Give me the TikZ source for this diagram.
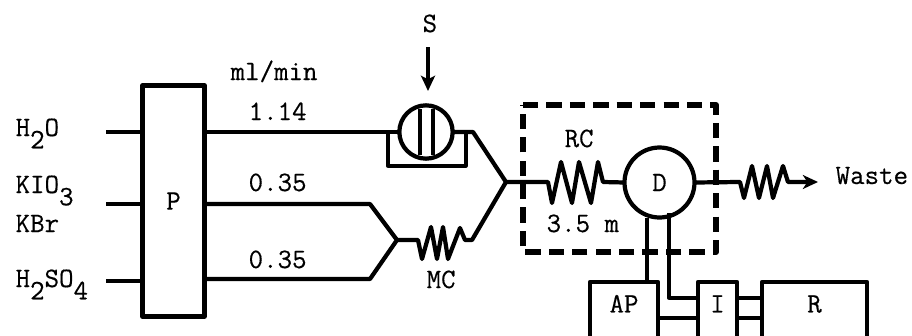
\documentclass[tikz,border=0pt]{standalone}
\usepackage{amsmath,amssymb}
\usepackage{fontspec}
\setmonofont[FakeBold=0.4]{Latin Modern Mono}
\usetikzlibrary{arrows.meta}

\newcommand{\lowered}[1]{\raisebox{-10.5pt}{#1}}
\tikzset{
    flow/.style={draw},
    coil/.style={draw, line width=3.6pt},
    tag/.style={anchor=base west, inner sep=0pt, font=\ttfamily\fontsize{24}{24}\selectfont},
    unit/.style={draw, line width=3.6pt, outer sep=0pt, inner sep=0pt, font=\ttfamily\fontsize{24}{24}\selectfont},
    openbox/.style={unit, anchor=north west, text height=26pt, text depth=40pt},
}

\begin{document}
\begin{tikzpicture}[x=0.03cm,y=-0.03cm,line width=2.8pt,line join=round]
        \useasboundingbox (0,0) rectangle (912,336);

        % Boxes below, cut off by the page edge
        \begin{scope}
        \clip (0,0) rectangle (912,336);
        \node[openbox, minimum width=2.04cm] (AP) at (590,282) {AP};
        \node[openbox, minimum width=1.17cm] (I) at (698,282) {I};
        \node[openbox, minimum width=3.15cm] (R) at (762,282) {R};
        \end{scope}

        % Pump, valve and detector
        \node[unit, minimum width=1.86cm, minimum height=6.93cm] (P) at (173.5,201) {P};
        \node[unit, circle, minimum size=1.6cm] (valve) at (426,132) {};
        \node[unit, circle, minimum size=2.1cm] (D) at (659.5,182.5) {D};

        % Feed lines
        \coordinate (inA) at (106,132);
        \coordinate (inB) at (106,204);
        \coordinate (inC) at (106,281);
        \draw[flow] (inA) -- (inA -| P.west);
        \draw[flow] (inB) -- (inB -| P.west);
        \draw[flow] (inC) -- (inC -| P.west);

        % Junctions
        \coordinate (mix) at (397,240);
        \coordinate (join) at (506,182);
        \coordinate (bendA) at (370,204);
        \coordinate (bendB) at (370,279);
        \coordinate (byL) at (388,132);
        \coordinate (byR) at (466,132);
        \coordinate (byOut) at (473,132);

        % Pump outlets
        \draw[flow] (P.east |- valve) -- (valve.west);
        \draw[coil] (P.east |- bendA) -- (bendA) -- (mix) -- (bendB) -- (P.east |- bendB);

        % Valve with its bars and bypass
        \draw[flow] (valve.center) ++(-6,-23) -- ++(0,46);
        \draw[flow] (valve.center) ++(7,-23) -- ++(0,46);
        \draw[flow] (byL) -- (388,166) -- (466,166) -- (byR);
        \draw[coil] (valve.east) -- (byOut) -- (join);

        % MC coil
        \draw[coil] (mix) -- (418,240) -- (422,259) -- (431,227) -- (437,259) -- (443,227) -- (448,259) -- (460,228) -- (465,240) -- (472,240) -- (join);

        % RC coil
        \draw[coil] (join) -- (548,182) -- (552,203) -- (561,162) -- (572,203) -- (579,162) -- (591,203) -- (598,162) -- (603,182) -- (D.west);

        % Waste coil and arrow
        \draw[coil, -{Stealth[length=13pt,width=12pt,inset=4pt]}] (D.east) -- (740,182) -- (744,198) -- (752,166) -- (759,198) -- (767,166) -- (773,198) -- (783,166) -- (788,182) -- (818,182);

        % Sample arrow
        \coordinate (inS) at (428,47);
        \draw[flow, -{Stealth[length=13pt,width=12pt,inset=3pt]}] (inS) -- (428,91);

        % Dashed reactor frame
        \draw[line width=5pt, dash pattern=on 13pt off 7pt] (523,105) -- (716,105) -- (716,252) -- (523,252) -- cycle;

        % Signal lines
        \draw[flow] (AP.north -| 647,0) -- (D.south -| 647,0);
        \draw[flow] (669,213) -- (669,298) -- (I.west |- 669,298);
        \draw[flow] (AP.east |- 0,318) -- (I.west |- 0,318);
        \draw[flow] (I.east |- 0,298) -- (R.west |- 0,298);
        \draw[flow] (I.east |- 0,318) -- (R.west |- 0,318);

        % Labels
        \node[tag] (water) at (14,136) {H\lowered{2}O};
        \node[tag] (iodate) at (14,193) {KIO\lowered{3}};
        \node[tag] (bromide) at (14,232) {KBr};
        \node[tag] (acid) at (14,287) {H\lowered{2}SO\lowered{4}};
        \node[tag] (rate) at (229,80) {ml/min};
        \node[tag] (rateA) at (247,120) {1.14};
        \node[tag] (rateB) at (247,191) {0.35};
        \node[tag] (rateC) at (247,268) {0.35};
        \node[tag] (sample) at (421,32) {S};
        \node[tag] (coilRC) at (563,147) {RC};
        \node[tag] (length) at (545,232) {3.5 m};
        \node[tag] (coilMC) at (425,288) {MC};
        \node[tag] (waste) at (834,184) {Waste};

    \end{tikzpicture}
\end{document}
